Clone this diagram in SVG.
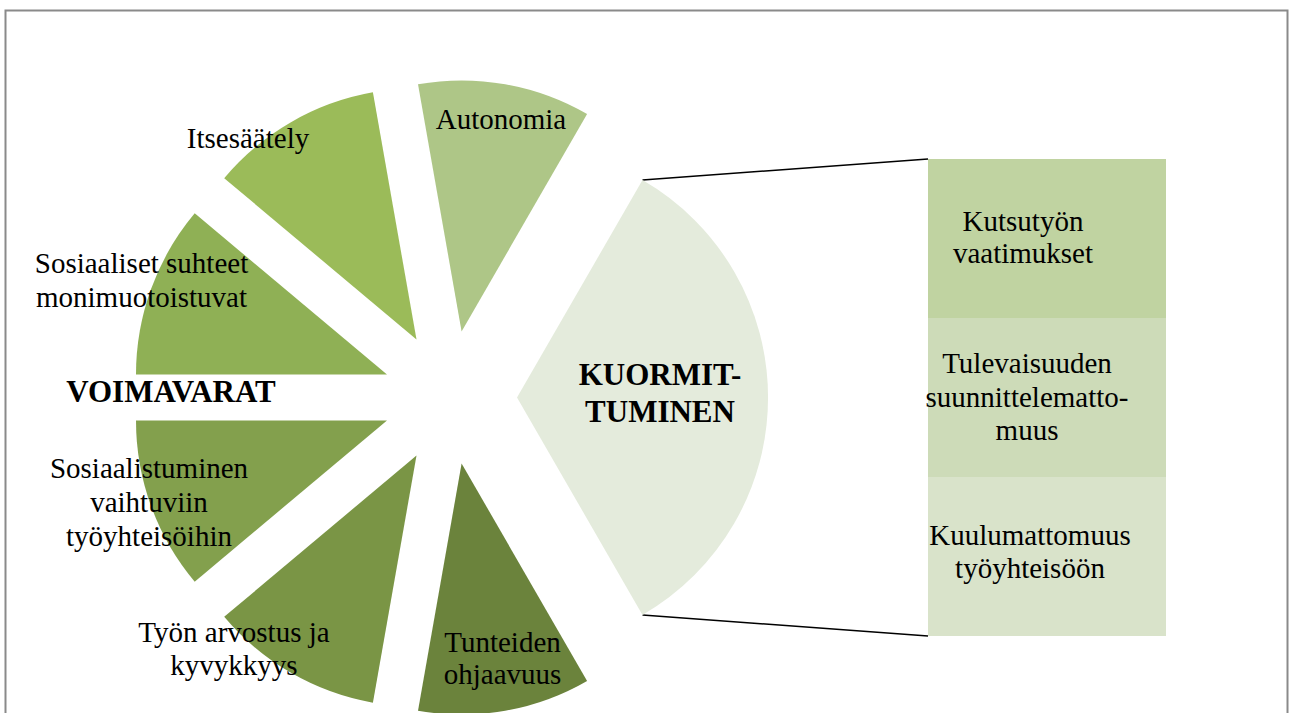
<svg xmlns="http://www.w3.org/2000/svg" width="1292" height="713" viewBox="0 0 1292 713">
<style>
text{font-family:"Liberation Serif","Times New Roman",serif;font-size:29px;fill:#000;text-anchor:middle}
.b{font-weight:bold;font-size:31px}
.frame{fill:#fff;stroke:#8a8a8a;stroke-width:2}
.conn{stroke:#000;stroke-width:1.6;fill:none}
</style>
<rect class="frame" x="5.5" y="10.5" width="1282" height="720"/>
<g id="connectors">
<line class="conn" x1="642.5" y1="180" x2="928" y2="159"/>
<line class="conn" x1="642.5" y1="615" x2="928" y2="636"/>
</g>
<g id="kuormittuminen">
<path d="M517,397.5 L642.5,180.1 A251,251 0 0 1 642.5,614.9 Z" fill="#E4EBDC"/>
<text class="b" x="660" y="385">KUORMIT-</text>
<text class="b" x="660" y="421.5">TUMINEN</text>
</g>
<g id="tunteiden">
<path d="M461.6,463.5 L587.1,680.9 A251,251 0 0 1 418,710.7 Z" fill="#6B833C"/>
<text x="502.5" y="651.5">Tunteiden</text>
<text x="502.5" y="684">ohjaavuus</text>
</g>
<g id="tyon-arvostus">
<path d="M416.5,455.5 L372.9,702.7 A251,251 0 0 1 224.2,616.8 Z" fill="#7A9545"/>
<text x="234" y="641.5">Työn arvostus ja</text>
<text x="234" y="675">kyvykkyys</text>
</g>
<g id="sosiaalistuminen">
<path d="M387,420.4 L194.7,581.7 A251,251 0 0 1 136,420.4 Z" fill="#83A04D"/>
<text x="149" y="478.3">Sosiaalistuminen</text>
<text x="149" y="512">vaihtuviin</text>
<text x="149" y="545.5">työyhteisöihin</text>
</g>
<g id="sosiaaliset-suhteet">
<path d="M387,374.6 L136,374.6 A251,251 0 0 1 194.7,213.3 Z" fill="#8FB055"/>
<text x="141.5" y="272.5">Sosiaaliset suhteet</text>
<text x="141.5" y="306.5">monimuotoistuvat</text>
</g>
<g id="voimavarat">
<text class="b" x="171" y="401.5">VOIMAVARAT</text>
</g>
<g id="itsesaately">
<path d="M416.5,339.5 L224.2,178.2 A251,251 0 0 1 372.9,92.3 Z" fill="#9BBB59"/>
<text x="248" y="148.3">Itsesäätely</text>
</g>
<g id="autonomia">
<path d="M461.6,331.5 L418,84.3 A251,251 0 0 1 587.1,114.1 Z" fill="#AEC687"/>
<text x="501" y="129.3">Autonomia</text>
</g>
<g id="kutsutyon">
<rect x="928" y="159" width="238" height="159" fill="#C0D3A1"/>
<text x="1023" y="230.7">Kutsutyön</text>
<text x="1023" y="263.3">vaatimukset</text>
</g>
<g id="tulevaisuuden">
<rect x="928" y="318" width="238" height="159" fill="#CDDBB8"/>
<text x="1027" y="373.3">Tulevaisuuden</text>
<text x="1027" y="406.7">suunnittelematto-</text>
<text x="1027" y="440">muus</text>
</g>
<g id="kuulumattomuus">
<rect x="928" y="477" width="238" height="159" fill="#D9E3CA"/>
<text x="1030" y="545">Kuulumattomuus</text>
<text x="1030" y="578.3">työyhteisöön</text>
</g>
</svg>
